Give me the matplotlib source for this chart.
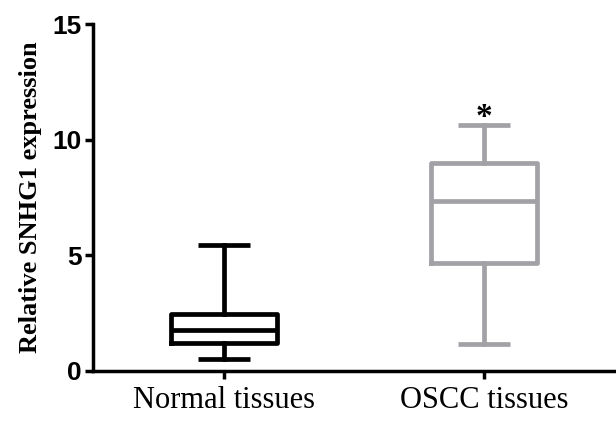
import matplotlib
matplotlib.use("Agg")
import matplotlib.pyplot as plt

categories = ["Normal tissues", "OSCC tissues"]
whislo = [0.50, 1.15]
q1 = [1.22, 4.66]
med = [1.77, 7.35]
q3 = [2.45, 9.00]
whishi = [5.45, 10.65]
colors = ["#000000", "#a2a2a6"]
yticks = [0, 5, 10, 15]
annotation = ["", "*"]

fig = plt.figure(figsize=(6.16, 4.24), dpi=100)
ax = fig.add_axes([93/616, 53/424, (615-93)/616, (371-24)/424])

positions = [1, 2]
for i in range(2):
    stats = [dict(whislo=whislo[i], q1=q1[i], med=med[i], q3=q3[i], whishi=whishi[i], fliers=[])]
    lw = 3.4
    c = colors[i]
    ax.bxp(stats, positions=[positions[i]], widths=0.41, capwidths=0.2,
           showfliers=False,
           boxprops=dict(color=c, linewidth=lw, solid_joinstyle="round"),
           medianprops=dict(color=c, linewidth=lw, solid_capstyle="butt"),
           whiskerprops=dict(color=c, linewidth=lw),
           capprops=dict(color=c, linewidth=lw, solid_capstyle="butt"),
           manage_ticks=False)
    if annotation[i]:
        ax.text(positions[i], whishi[i] + 0.3, annotation[i], ha="center", va="center",
                fontsize=24, family="Liberation Serif", fontweight="bold")

ax.set_xlim(0.496, 2.504)
ax.set_ylim(0, 15)
ax.set_xticks(positions)
ax.set_xticklabels(categories, family="Liberation Serif", fontsize=22)
ax.set_yticks(yticks)
ax.set_yticklabels([str(t) for t in yticks], family="Liberation Sans", fontweight="bold", fontsize=19)
ax.spines["top"].set_visible(False)
ax.spines["right"].set_visible(False)
for s in ["left", "bottom"]:
    ax.spines[s].set_linewidth(2.5)
ax.tick_params(axis="both", width=2.5, length=6, direction="out")
ax.tick_params(axis="x", pad=5)
ax.tick_params(axis="y", pad=2)
ax.set_ylabel("Relative SNHG1 expression", family="Liberation Serif", fontweight="bold", fontsize=19, labelpad=8)

fig.savefig("out.png", dpi=100)
